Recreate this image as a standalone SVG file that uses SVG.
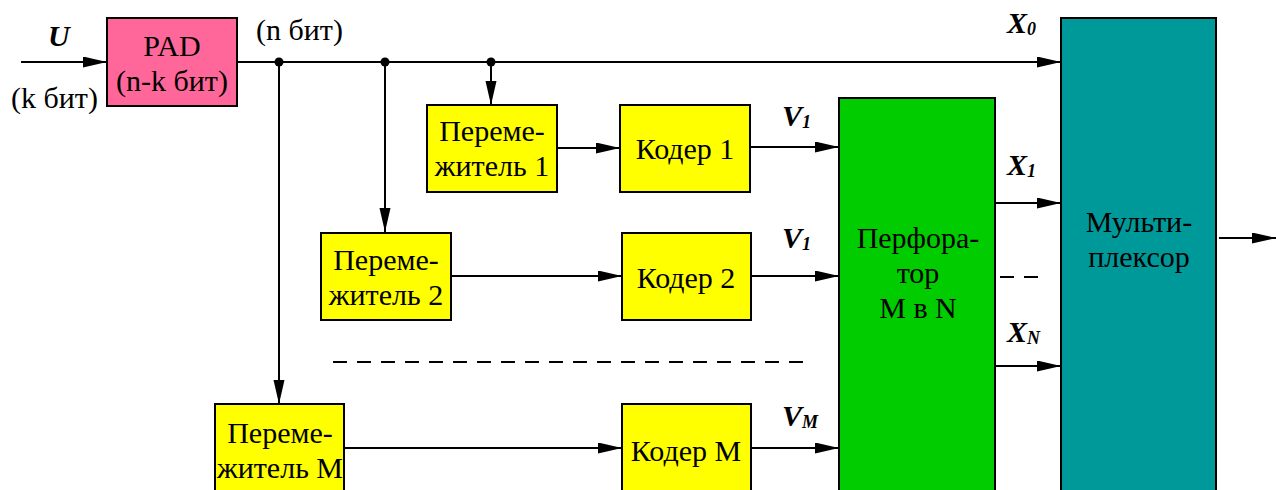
<svg xmlns="http://www.w3.org/2000/svg" width="1276" height="490" viewBox="0 0 1276 490" font-family="Liberation Serif, serif">
<style>
.box{stroke:#000;stroke-width:2}
.t{font-size:30px;fill:#000;text-anchor:middle}
.l{font-size:30px;fill:#000}
.v{font-size:30px;font-weight:bold;font-style:italic;fill:#000}
.s{font-size:18px;font-weight:bold}
.w{stroke:#000;stroke-width:2;fill:none}
.a{marker-end:url(#ah)}
.d{stroke-dasharray:14,10}
</style>
<defs>
<marker id="ah" markerUnits="userSpaceOnUse" markerWidth="26" markerHeight="12" refX="24" refY="5.5" orient="auto">
<path d="M0,0 L24,5.5 L0,11 Z" fill="#000"/>
</marker>
</defs>
<g id="connectors">
<line class="w a" x1="21" y1="62" x2="107" y2="62"/>
<line class="w a" x1="237" y1="62" x2="1061" y2="62"/>
<line class="w a" x1="279" y1="62" x2="279" y2="404"/>
<line class="w a" x1="385" y1="62" x2="385" y2="232"/>
<line class="w a" x1="491" y1="62" x2="491" y2="105"/>
<circle cx="279" cy="62" r="4.5" fill="#000"/>
<circle cx="385" cy="62" r="4.5" fill="#000"/>
<circle cx="491" cy="62" r="4.5" fill="#000"/>
<line class="w a" x1="557" y1="148" x2="620" y2="148"/>
<line class="w a" x1="750" y1="147" x2="839" y2="147"/>
<line class="w a" x1="451" y1="276" x2="622" y2="276"/>
<line class="w a" x1="751" y1="276" x2="839" y2="276"/>
<line class="w a" x1="344" y1="448" x2="622" y2="448"/>
<line class="w a" x1="751" y1="448" x2="839" y2="448"/>
<line class="w d" x1="333" y1="362" x2="806" y2="362"/>
<line class="w a" x1="995" y1="203" x2="1061" y2="203"/>
<line class="w a" x1="995" y1="366" x2="1061" y2="366"/>
<line class="w d" x1="1000" y1="277" x2="1048" y2="277"/>
<line class="w a" x1="1219" y1="238" x2="1276" y2="238"/>
</g>
<g id="labels">
<text class="v" font-family="Liberation Serif" x="48" y="46">U</text>
<text class="l" font-family="Liberation Serif" x="11" y="108">(k бит)</text>
<text class="l" font-family="Liberation Serif" x="256" y="40">(n бит)</text>
<text class="v" font-family="Liberation Serif" x="1007" y="33">X<tspan class="s" dy="2">0</tspan></text>
<text class="v" font-family="Liberation Serif" x="1007" y="175">X<tspan class="s" dy="2">1</tspan></text>
<text class="v" font-family="Liberation Serif" x="1007" y="342">X<tspan class="s" dy="2">N</tspan></text>
<text class="v" font-family="Liberation Serif" x="782" y="126">V<tspan class="s" dy="2">1</tspan></text>
<text class="v" font-family="Liberation Serif" x="782" y="248">V<tspan class="s" dy="2">1</tspan></text>
<text class="v" font-family="Liberation Serif" x="782" y="426">V<tspan class="s" dy="2">M</tspan></text>
</g>
<g id="pad">
<rect class="box" x="107" y="18" width="130" height="88" fill="#FF6699"/>
<text class="t" font-family="Liberation Serif" x="172" y="56">PAD</text>
<text class="t" font-family="Liberation Serif" x="172" y="91">(n-k бит)</text>
</g>
<g id="interleaver1">
<rect class="box" x="427" y="105" width="130" height="87" fill="#FFFF00"/>
<text class="t" font-family="Liberation Serif" x="492" y="141">Переме-</text>
<text class="t" font-family="Liberation Serif" x="492" y="176">житель 1</text>
</g>
<g id="coder1">
<rect class="box" x="620" y="105" width="130" height="87" fill="#FFFF00"/>
<text class="t" font-family="Liberation Serif" x="685" y="159">Кодер 1</text>
</g>
<g id="interleaver2">
<rect class="box" x="321" y="233" width="130" height="87" fill="#FFFF00"/>
<text class="t" font-family="Liberation Serif" x="386" y="270">Переме-</text>
<text class="t" font-family="Liberation Serif" x="386" y="305">житель 2</text>
</g>
<g id="coder2">
<rect class="box" x="622" y="233" width="129" height="87" fill="#FFFF00"/>
<text class="t" font-family="Liberation Serif" x="686" y="288">Кодер 2</text>
</g>
<g id="interleaverM">
<rect class="box" x="215" y="404" width="129" height="100" fill="#FFFF00"/>
<text class="t" font-family="Liberation Serif" x="280" y="443">Переме-</text>
<text class="t" font-family="Liberation Serif" x="280" y="478" textLength="126" lengthAdjust="spacingAndGlyphs">житель М</text>
</g>
<g id="coderM">
<rect class="box" x="622" y="404" width="129" height="100" fill="#FFFF00"/>
<text class="t" font-family="Liberation Serif" x="686" y="461">Кодер М</text>
</g>
<g id="perforator">
<rect class="box" x="839" y="98" width="156" height="410" fill="#00CC00"/>
<text class="t" font-family="Liberation Serif" x="918" y="248">Перфора-</text>
<text class="t" font-family="Liberation Serif" x="918" y="283">тор</text>
<text class="t" font-family="Liberation Serif" x="918" y="318">М в N</text>
</g>
<g id="multiplexer">
<rect class="box" x="1061" y="18" width="155" height="490" fill="#009999"/>
<text class="t" font-family="Liberation Serif" x="1139" y="232">Мульти-</text>
<text class="t" font-family="Liberation Serif" x="1139" y="267">плексор</text>
</g>
</svg>
